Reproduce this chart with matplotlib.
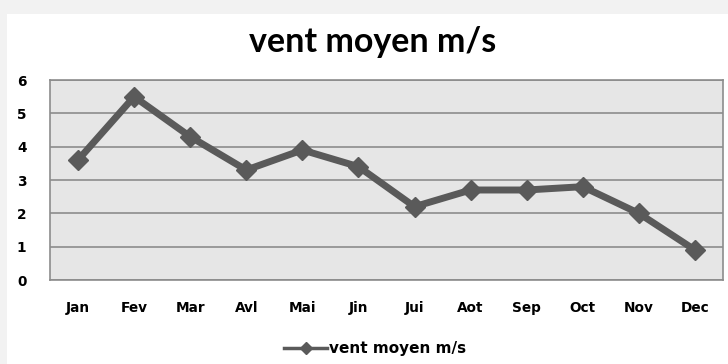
import matplotlib
matplotlib.use("Agg")
import matplotlib.pyplot as plt
from matplotlib.patches import Rectangle

months = ["Jan", "Fev", "Mar", "Avl", "Mai", "Jin", "Jui", "Aot", "Sep", "Oct", "Nov", "Dec"]
wind = [3.6, 5.5, 4.3, 3.3, 3.9, 3.4, 2.2, 2.7, 2.7, 2.8, 2.0, 0.9]
yticks = [0, 1, 2, 3, 4, 5, 6]
series_name = "vent moyen m/s"

fig = plt.figure(figsize=(7.28, 3.64), dpi=100)
fig.patch.set_facecolor("#f2f2f2")

# white card behind the chart
card = Rectangle((7 / 728, 0), 1, 1 - 14 / 364, transform=fig.transFigure,
                 facecolor="white", edgecolor="none", zorder=-5)
fig.patches.append(card)

ax = fig.add_axes([50 / 728, 1 - 280 / 364, 673 / 728, 200 / 364])
ax.set_zorder(2)
ax.set_facecolor("#e6e6e6")
x = range(len(months))
line, = ax.plot(x, wind, color="#5a5a5a", lw=5, marker="D", markersize=10,
                markeredgecolor="#5a5a5a", label=series_name, zorder=3)

ax.set_xlim(-0.5, len(months) - 0.5)
ax.set_ylim(0, 6)
ax.set_yticks(yticks)
ax.set_xticks(list(x))
ax.set_xticklabels(months)
ax.grid(axis="y", color="#8c8c8c", lw=1.2)
ax.set_axisbelow(True)
for s in ax.spines.values():
    s.set_color("#8c8c8c")
    s.set_linewidth(1.2)
ax.tick_params(length=0, labelsize=9.8, colors="black")
ax.tick_params(axis="x", pad=15)
ax.tick_params(axis="y", pad=17)
for lab in ax.get_xticklabels() + ax.get_yticklabels():
    lab.set_fontweight("bold")
    lab.set_fontfamily("DejaVu Sans")

fig.text(373 / 728, 1 - 42 / 364, "vent moyen m/s", ha="center", va="center",
         fontsize=24.5, fontweight="bold", family="Lato")

leg = fig.legend(handles=[line], loc="center", bbox_to_anchor=(375 / 728, 1 - 349 / 364),
                 frameon=False, handlelength=2.8, handletextpad=0.1,
                 prop={"weight": "bold", "size": 11, "family": "DejaVu Sans"})
leg.get_lines()[0].set_linewidth(2.5)
leg.get_lines()[0].set_markersize(6)

fig.savefig("out.png", dpi=100, facecolor=fig.get_facecolor())
